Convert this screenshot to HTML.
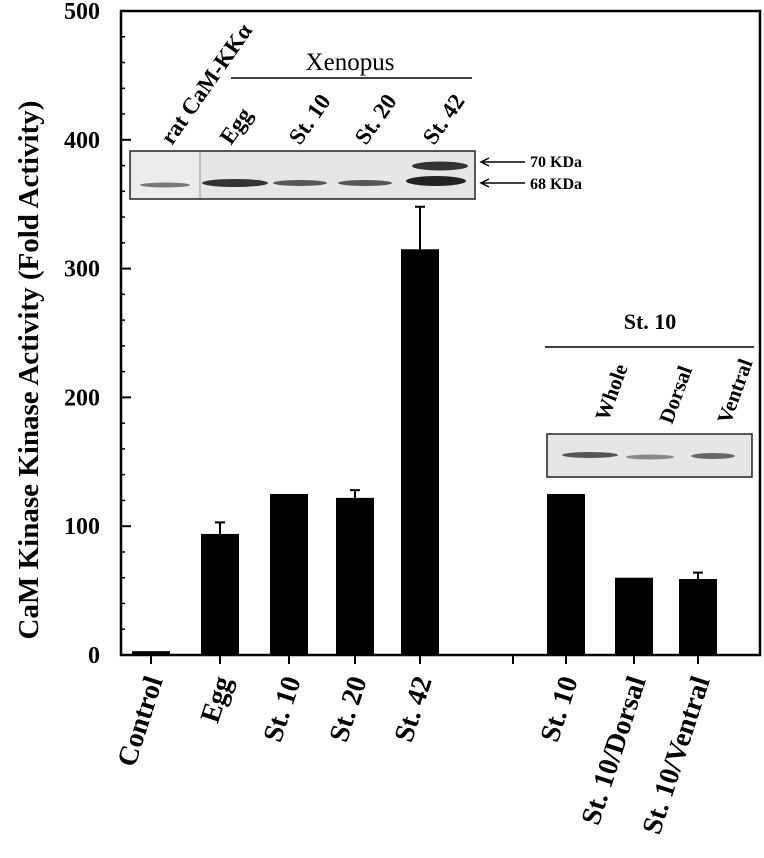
<!DOCTYPE html>
<html><head><meta charset="utf-8"><style>
body{margin:0;background:#fff}
svg text{font-family:"Liberation Serif",serif;font-weight:bold;fill:#000}
</style></head><body>
<svg id="chart" width="764" height="853" viewBox="0 0 764 853" xmlns="http://www.w3.org/2000/svg">
<rect x="121" y="11" width="639" height="644" fill="none" stroke="#000" stroke-width="2.5"/>
<g id="yaxis"></g>
<g id="bars"></g>
<g id="xaxis"></g>
<text transform="translate(38,370) rotate(-90)" text-anchor="middle" font-size="29">CaM Kinase Kinase Activity (Fold Activity)</text>

<g>
<rect x="130" y="151" width="345" height="48" fill="#e6e6e6" stroke="#222" stroke-width="1.5"/>
<rect x="131" y="152" width="69" height="46" fill="#ececec"/>
<line x1="200" y1="152" x2="200" y2="198" stroke="#999"/>
<ellipse cx="165" cy="185" rx="25" ry="2.5" fill="#777"/>
<ellipse cx="235" cy="183" rx="33" ry="4" fill="#333"/>
<ellipse cx="300" cy="183" rx="27" ry="3" fill="#555"/>
<ellipse cx="365" cy="183" rx="27" ry="3" fill="#555"/>
<ellipse cx="436" cy="181" rx="30" ry="5" fill="#222"/>
<ellipse cx="440" cy="166" rx="28" ry="4.5" fill="#333"/>
</g>
<text transform="translate(172,146) rotate(-55)" font-size="23">rat CaM-KKα</text>
<line x1="231" y1="78" x2="472" y2="78" stroke="#000" stroke-width="1.5"/>
<text x="350" y="70" text-anchor="middle" font-size="25" style="font-weight:normal">Xenopus</text>
<text transform="translate(231,146) rotate(-55)" font-size="23">Egg</text>
<text transform="translate(300,146) rotate(-55)" font-size="23">St. 10</text>
<text transform="translate(366,146) rotate(-55)" font-size="23">St. 20</text>
<text transform="translate(434,146) rotate(-55)" font-size="23">St. 42</text>
<g stroke="#000" stroke-width="1.5" fill="none">
<line x1="481" y1="162" x2="525" y2="162"/><path d="M489,158 L481,162 L489,166"/>
<line x1="481" y1="183" x2="525" y2="183"/><path d="M489,179 L481,183 L489,187"/>
</g>
<text x="530" y="167" font-size="16">70 KDa</text>
<text x="530" y="189" font-size="16">68 KDa</text>

<text x="650" y="329" text-anchor="middle" font-size="22">St. 10</text>
<line x1="545" y1="347" x2="754" y2="347" stroke="#000" stroke-width="1.5"/>
<text transform="translate(608,422) rotate(-70)" font-size="21">Whole</text>
<text transform="translate(672,425) rotate(-70)" font-size="21">Dorsal</text>
<text transform="translate(730,425) rotate(-70)" font-size="21">Ventral</text>
<g>
<rect x="547" y="434" width="205" height="43" fill="#e6e6e6" stroke="#222" stroke-width="1.5"/>
<ellipse cx="590" cy="455" rx="28" ry="3" fill="#555"/>
<ellipse cx="650" cy="457" rx="24" ry="2.5" fill="#888"/>
<ellipse cx="713" cy="456" rx="22" ry="3" fill="#666"/>
</g>
</svg>
<script>
const categories=["Control","Egg","St. 10","St. 20","St. 42","","St. 10","St. 10/Dorsal","St. 10/Ventral"];
const values=[3,94,125,122,315,null,125,60,59];
const errors=[0,9,0,6,33,null,0,0,5];
const yTicks=[0,100,200,300,400,500];
const centers=[151,220,289,355,420,513,566,634,698];
const NS="http://www.w3.org/2000/svg";
function y(v){return 655-v*(644/500);}
function mk(t,a,p){const e=document.createElementNS(NS,t);for(const k in a)e.setAttribute(k,a[k]);p.appendChild(e);return e;}
const ya=document.getElementById('yaxis'),bg=document.getElementById('bars'),xa=document.getElementById('xaxis');
yTicks.forEach(v=>{
  const l=mk('line',{x1:121,x2:131,y1:y(v),y2:y(v),stroke:'#000','stroke-width':2},ya);
  
  
  const t=mk('text',{x:100,y:y(v)+8,'text-anchor':'end','font-size':24},ya);
  t.textContent=v;
  
  
});
for(let v=20;v<500;v+=20){if(v%100===0)continue;
  const l=mk('line',{x1:122,x2:125,y1:y(v),y2:y(v),stroke:'#000','stroke-width':1.5},ya);
  
  
}
categories.forEach((c,i)=>{
  const cx=centers[i];
  const tk=mk('line',{x1:cx,x2:cx,y1:655,y2:664,stroke:'#000','stroke-width':2},xa);
  
  
  if(values[i]!==null){
    const w=38;
    const r=mk('rect',{x:cx-w/2,y:y(values[i]),width:w,height:655-y(values[i]),fill:'#000'},bg);
    
    
    if(errors[i]>0){
      const top=y(values[i]+errors[i]);
      const e=mk('path',{d:`M${cx},${y(values[i])} V${top} M${cx-5},${top} H${cx+5}`,stroke:'#000','stroke-width':2,fill:'none'},bg);
      
      
    }
  }
  if(c){
    const t=mk('text',{transform:`translate(${cx+12},680) rotate(-72)`,'text-anchor':'end','font-size':28},xa);
    t.textContent=c;
    
    
  }
});
</script>
</body></html>
